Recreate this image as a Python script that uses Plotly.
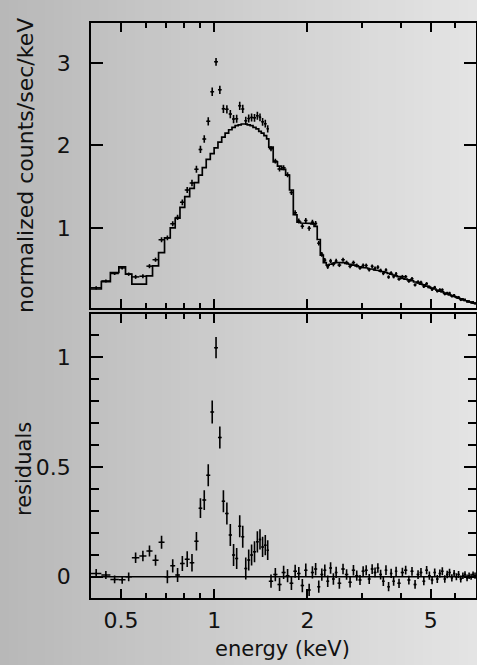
import numpy as np
import plotly.graph_objects as go

# Channel-group boundaries (keV)
edges = [
    0.400, 0.432, 0.462, 0.492, 0.517, 0.542, 0.573, 0.604, 0.632, 0.661,
    0.691, 0.721, 0.748, 0.775, 0.803, 0.833, 0.862, 0.890, 0.915, 0.942,
    0.971, 0.999, 1.028, 1.057, 1.084, 1.113, 1.141, 1.168, 1.195, 1.222,
    1.250, 1.278, 1.306, 1.334, 1.364, 1.392, 1.418, 1.447, 1.476,
    1.50, 1.55, 1.60, 1.65, 1.70, 1.75, 1.80, 1.85, 1.90, 1.95, 2.00,
    2.05, 2.10, 2.15, 2.20, 2.25, 2.30, 2.35, 2.40, 2.45, 2.50,
    2.57, 2.64, 2.71, 2.78, 2.85, 2.92, 2.99, 3.06, 3.13, 3.20,
    3.27, 3.34, 3.41, 3.48, 3.55, 3.62, 3.69, 3.76, 3.83, 3.90,
    4.00, 4.10, 4.20, 4.30, 4.40, 4.50, 4.60, 4.70, 4.80, 4.90,
    5.00, 5.10, 5.20, 5.30, 5.40, 5.50, 5.60, 5.70, 5.80, 5.90,
    6.00, 6.10, 6.20, 6.30, 6.40, 6.50, 6.60, 6.70, 6.80, 6.90, 7.00,
]

# Folded model (normalized counts/sec/keV) per channel group
model = [
    0.26, 0.35, 0.46, 0.53, 0.44, 0.32, 0.32, 0.42, 0.54, 0.70,
    0.88, 1.00, 1.12, 1.25, 1.38, 1.48, 1.55, 1.64, 1.73, 1.83,
    1.90, 1.97, 2.04, 2.10, 2.15, 2.19, 2.22, 2.24, 2.25, 2.26,
    2.26, 2.25, 2.24, 2.22, 2.20, 2.17, 2.15, 2.12, 2.08,
    1.98, 1.80, 1.75, 1.71, 1.64, 1.46, 1.16, 1.07, 1.06, 1.06,
    1.055, 1.05, 1.02, 0.86, 0.67, 0.58, 0.55, 0.56, 0.57, 0.58,
    0.58, 0.58, 0.57, 0.56, 0.55, 0.54, 0.53, 0.52, 0.515, 0.505,
    0.50, 0.49, 0.485, 0.475, 0.47, 0.46, 0.45, 0.44, 0.43, 0.42,
    0.41, 0.39, 0.38, 0.37, 0.36, 0.345, 0.335, 0.32, 0.31, 0.295,
    0.28, 0.27, 0.26, 0.245, 0.235, 0.225, 0.21, 0.20, 0.19, 0.18,
    0.17, 0.16, 0.15, 0.14, 0.13, 0.12, 0.115, 0.105, 0.098, 0.09, 0.082,
]

# Residuals (data - model)
resid = [
    0.015, 0.008, -0.012, -0.014, 0.0, 0.087, 0.095, 0.117, 0.075, 0.157,
    0.0, 0.05, 0.008, 0.06, 0.08, 0.064, 0.162, 0.312, 0.349, 0.462,
    0.75, 1.043, 0.634, 0.344, 0.288, 0.19, 0.099, 0.083, 0.23, 0.182,
    0.038, 0.076, 0.099, 0.114, 0.159, 0.17, 0.136, 0.144, 0.121,
    -0.02, 0.01, -0.035, 0.02, 0.005, -0.03, 0.025, 0.015, -0.04, 0.03,
    -0.06, 0.02, 0.035, -0.045, 0.01, 0.03, -0.02, 0.04, -0.01, 0.02,
    -0.03, 0.035, 0.01, -0.025, 0.03, 0.005, -0.015, 0.025, 0.03, -0.01,
    0.035, 0.02, 0.04, 0.01, -0.02, 0.03, -0.045, 0.015, -0.02, 0.025,
    -0.03, 0.02, 0.03, -0.015, 0.025, -0.035, 0.01, 0.02, -0.02, 0.03,
    0.005, -0.015, 0.02, -0.01, 0.015, 0.025, -0.01, 0.01, 0.02, -0.005,
    0.015, 0.0, 0.01, -0.01, 0.005, 0.01, -0.005, 0.005, 0.0, 0.01, 0.005,
]

# 1-sigma uncertainties
err = [
    0.02, 0.018, 0.018, 0.018, 0.02, 0.024, 0.024, 0.025, 0.025, 0.03,
    0.03, 0.03, 0.032, 0.034, 0.036, 0.04, 0.042, 0.045, 0.045, 0.05,
    0.052, 0.048, 0.05, 0.05, 0.05, 0.05, 0.05, 0.048, 0.05, 0.05,
    0.05, 0.048, 0.048, 0.048, 0.048, 0.046, 0.046, 0.046, 0.045,
    0.03, 0.03, 0.03, 0.03, 0.03, 0.03, 0.03, 0.03, 0.03, 0.03,
    0.028, 0.028, 0.028, 0.028, 0.028, 0.026, 0.026, 0.026, 0.026, 0.026,
    0.024, 0.024, 0.024, 0.024, 0.024, 0.023, 0.023, 0.023, 0.023, 0.023,
    0.022, 0.022, 0.022, 0.022, 0.022, 0.022, 0.021, 0.021, 0.021, 0.021,
    0.021, 0.021, 0.02, 0.02, 0.02, 0.02, 0.02, 0.02, 0.019, 0.019,
    0.019, 0.019, 0.018, 0.018, 0.018, 0.018, 0.017, 0.017, 0.017, 0.017,
    0.016, 0.016, 0.016, 0.016, 0.015, 0.015, 0.015, 0.015, 0.014, 0.014, 0.014,
]

x_major = [0.5, 1, 2, 5]
x_major_text = ["0.5", "1", "2", "5"]
x_minor = [0.4, 0.6, 0.7, 0.8, 0.9, 3, 4, 6, 7]
y1_major = [1, 2, 3]
y2_major = [0, 0.5, 1]
y2_major_text = ["0", "0.5", "1"]
y2_minor = [0.1, 0.2, 0.3, 0.4, 0.6, 0.7, 0.8, 0.9, 1.1]

lo = np.array(edges[:-1])
hi = np.array(edges[1:])
centre = np.sqrt(lo * hi)
mdl = np.array(model)
res = np.array(resid)
sig = np.array(err)
counts = mdl + res

# histogram outline of the model
step_x = np.column_stack([lo, hi]).ravel()
step_y = np.column_stack([mdl, mdl]).ravel()

INK = "black"
FONT = "DejaVu Sans"
W, H = 477, 665

fig = go.Figure()

fig.add_trace(go.Scatter(
    x=step_x, y=step_y, mode="lines", line=dict(color=INK, width=1.7),
    xaxis="x", yaxis="y", showlegend=False, hoverinfo="skip"))

cross = dict(
    mode="markers", marker=dict(size=2, color=INK), showlegend=False,
    error_x=dict(type="data", symmetric=False, array=hi - centre,
                 arrayminus=centre - lo, width=0, thickness=1.5, color=INK),
    error_y=dict(type="data", array=sig, width=0, thickness=1.6, color=INK),
)
fig.add_trace(go.Scatter(x=centre, y=counts, xaxis="x", yaxis="y", **cross))

fig.add_trace(go.Scatter(
    x=[edges[0], edges[-1]], y=[0, 0], mode="lines",
    line=dict(color=INK, width=1.7), xaxis="x2", yaxis="y2",
    showlegend=False, hoverinfo="skip"))
fig.add_trace(go.Scatter(x=centre, y=res, xaxis="x2", yaxis="y2", **cross))

x_dom = [91 / W, 476 / W]
top_dom = [(H - 308.0) / H, (H - 23.3) / H]
bot_dom = [(H - 598.3) / H, (H - 313.8) / H]

frame = dict(showline=True, linecolor=INK, linewidth=1.8, mirror="allticks",
             ticks="inside", tickcolor=INK, tickwidth=1.5, showgrid=False,
             zeroline=False, automargin=False)

xcommon = dict(type="log", range=[np.log10(edges[0]), np.log10(edges[-1])],
               domain=x_dom, tickmode="array", tickvals=x_major,
               ticktext=x_major_text, ticklen=9,
               minor=dict(tickmode="array", tickvals=x_minor, ticks="inside",
                          ticklen=5, tickwidth=1.5, tickcolor=INK),
               **frame)

fig.update_layout(
    width=W, height=H,
    margin=dict(l=0, r=0, t=0, b=0),
    paper_bgcolor="#d0d0d0",
    plot_bgcolor="rgba(0,0,0,0)",
    font=dict(family=FONT, size=22, color="#111111"),
    showlegend=False,
    xaxis=dict(anchor="y", showticklabels=False, **xcommon),
    xaxis2=dict(anchor="y2", matches="x", showticklabels=True,
                ticklabelstandoff=1, tickfont=dict(size=22), **xcommon),
    yaxis=dict(anchor="x", domain=top_dom, range=[0.03, 3.48],
               tickmode="array", tickvals=y1_major, ticklen=12,
               ticklabelstandoff=14, tickfont=dict(size=22), **frame),
    yaxis2=dict(anchor="x2", domain=bot_dom, range=[-0.098, 1.197],
                tickmode="array", tickvals=y2_major, ticktext=y2_major_text,
                ticklen=12, ticklabelstandoff=14, tickfont=dict(size=22),
                minor=dict(tickmode="array", tickvals=y2_minor, ticks="inside",
                           ticklen=8, tickwidth=1.5, tickcolor=INK),
                **frame),
)

# soft left-to-right grey shading of the page; solid columns on whole-pixel
# boundaries so that no seams show between them
shapes = []
col_px, n_cols = 9, 53          # 53 * 9 = 477
c_left, c_right = 184, 228
for i in range(n_cols):
    g = int(round(c_left + (c_right - c_left) * i / (n_cols - 1)))
    shapes.append(dict(type="rect", xref="paper", yref="paper",
                       x0=i * col_px / W, x1=(i + 1) * col_px / W,
                       y0=0, y1=1, layer="below", line=dict(width=0),
                       fillcolor=f"rgb({g},{g},{g})"))
fig.update_layout(shapes=shapes)

titles = [
    ("normalized counts/sec/keV", 25, 166, -90, 22),
    ("residuals", 24, 469, -90, 21),
    ("energy (keV)", 282.5, 649, 0, 21),
]
for text, px, py, ang, size in titles:
    fig.add_annotation(text=text, xref="paper", yref="paper",
                       x=px / W, y=(H - py) / H, xanchor="center",
                       yanchor="middle", showarrow=False, textangle=ang,
                       font=dict(family=FONT, size=size, color="#111111"))

fig.write_html("out.html")
